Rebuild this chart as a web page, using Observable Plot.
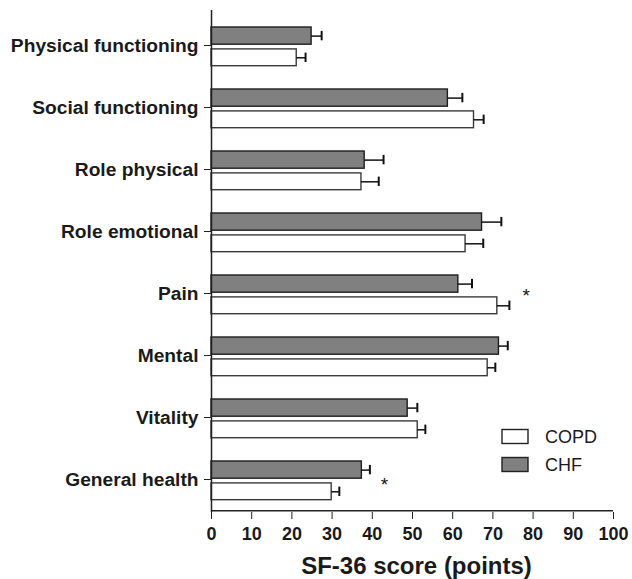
<!DOCTYPE html>
<html>
<head>
<meta charset="utf-8">
<script src="https://cdn.jsdelivr.net/npm/d3@7"></script>
<script src="https://cdn.jsdelivr.net/npm/@observablehq/plot@0.6"></script>
<style>
  html, body { margin: 0; padding: 0; background: #fff; }
  #chart svg { display: block; }
</style>
</head>
<body>
<div id="chart"></div>
<script>
const categories = ["Physical functioning", "Social functioning", "Role physical", "Role emotional", "Pain", "Mental", "Vitality", "General health"];
const chfValues = [24.9, 58.8, 38.1, 67.3, 61.4, 71.5, 48.8, 37.4];
const chfUpper  = [27.4, 62.4, 42.8, 72.1, 64.8, 73.7, 51.2, 39.4];
const copdValues = [21.2, 65.3, 37.3, 63.2, 71.1, 68.7, 51.3, 29.9];
const copdUpper  = [23.4, 67.7, 41.6, 67.6, 74.1, 70.6, 53.2, 31.8];
const starCategories = ["Pain", "General health"];
const starX = [78.3, 43.0];
const xTicks = [0, 10, 20, 30, 40, 50, 60, 70, 80, 90, 100];
const seriesNames = ["COPD", "CHF"];
const seriesFill = ["#ffffff", "#808080"];
const xLabel = "SF-36 score (points)";

const rows = categories.map((c, i) => ({
  cat: c, chf: chfValues[i], chfHi: chfUpper[i], copd: copdValues[i], copdHi: copdUpper[i]
}));
const stars = starCategories.map((c, i) => ({cat: c, x: starX[i]}));

const font = "'Liberation Sans', Arial, Helvetica, sans-serif";

const chart = Plot.plot({
  width: 632,
  height: 579,
  marginLeft: 211,
  marginRight: 19,
  marginTop: 12,
  marginBottom: 67,
  style: {fontFamily: font, background: "#fff", color: "#1a1a1a"},
  x: {domain: [0, 100], label: null},
  y: {domain: categories, padding: 0, label: null},
  marks: [
    Plot.barX(rows, {x: "chf", y: "cat", fill: seriesFill[1], stroke: "#1e1e1e", strokeWidth: 1.4, insetTop: 13, insetBottom: 31.8}),
    Plot.barX(rows, {x: "copd", y: "cat", fill: seriesFill[0], stroke: "#3a3a3a", strokeWidth: 1.4, insetTop: 34.9, insetBottom: 10.3}),
    Plot.ruleY(rows, {y: "cat", x1: "chf", x2: "chfHi", dy: -9.4, stroke: "#111", strokeWidth: 1.5}),
    Plot.ruleY(rows, {y: "cat", x1: "copd", x2: "copdHi", dy: 12.3, stroke: "#111", strokeWidth: 1.5}),
    Plot.tickX(rows, {x: "chfHi", y: "cat", insetTop: 16.9, insetBottom: 35.7, stroke: "#111", strokeWidth: 2}),
    Plot.tickX(rows, {x: "copdHi", y: "cat", insetTop: 38.6, insetBottom: 14, stroke: "#111", strokeWidth: 2}),
    Plot.text(stars, {x: "x", y: "cat", text: () => "*", dy: 2.7, fontSize: 19, fill: "#111", filter: d => d.cat === "Pain"}),
    Plot.text(stars, {x: "x", y: "cat", text: () => "*", dy: 5, fontSize: 19, fill: "#111", filter: d => d.cat === "General health"}),
    Plot.axisX({ticks: xTicks, tickSize: 7, tickPadding: 8, fontSize: 18, fontWeight: "bold", label: null, stroke: "#222"}),
    Plot.axisY({tickSize: 7, tickPadding: 6, fontSize: 19.2, fontWeight: "bold", label: null, stroke: "#222"}),
    Plot.ruleX([0], {stroke: "#222", strokeWidth: 1.5, insetTop: -2}),
    Plot.ruleY([0], {y: () => categories[categories.length - 1], dy: 31.3, stroke: "#222", strokeWidth: 1.5}),
    Plot.text([xLabel], {text: d => d, frameAnchor: "bottom", lineAnchor: "top", dy: 44, dx: 4, fontSize: 24, fontWeight: "bold", fill: "#1a1a1a"})
  ]
});

// legend inside the plot area
const svg = d3.select(chart);
const lg = svg.append("g").attr("font-family", font).attr("text-anchor", "start");
const legendY = [429.5, 457.5];
seriesNames.forEach((name, i) => {
  lg.append("rect").attr("x", 502).attr("y", legendY[i]).attr("width", 26).attr("height", 14)
    .attr("fill", seriesFill[i]).attr("stroke", "#222").attr("stroke-width", 1.4);
  lg.append("text").attr("x", 545).attr("y", legendY[i] + 7).attr("dy", "0.35em")
    .attr("text-anchor", "start")
    .style("font-size", "18px").attr("fill", "#1a1a1a").text(name);
});

document.getElementById("chart").appendChild(chart);
</script>
</body>
</html>
